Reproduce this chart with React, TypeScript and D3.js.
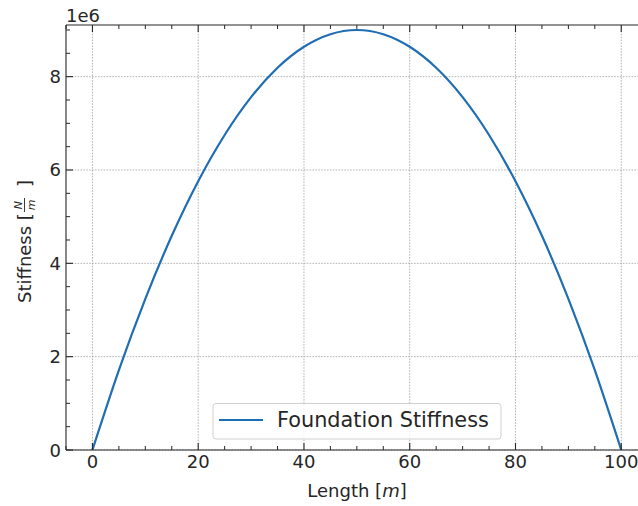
import React from "react";
import * as d3 from "d3";

const lengths = [0, 5, 10, 15, 20, 25, 30, 35, 40, 45, 50, 55, 60, 65, 70, 75, 80, 85, 90, 95, 100];
const stiffness = [0, 1.71e6, 3.24e6, 4.59e6, 5.76e6, 6.75e6, 7.56e6, 8.19e6, 8.64e6, 8.91e6, 9.0e6, 8.91e6, 8.64e6, 8.19e6, 7.56e6, 6.75e6, 5.76e6, 4.59e6, 3.24e6, 1.71e6, 0];
const xTicks = [0, 20, 40, 60, 80, 100];
const yTicks = [0, 2e6, 4e6, 6e6, 8e6];
const seriesName = "Foundation Stiffness";

const W = 638, H = 506;
const L = 66, T = 25, B = 450;
const RIGHT = 647.7;
const FONT = "DejaVu Sans, sans-serif";
const TXT = "#262626";
const BLUE = "#1f6db2";
const FS = 18;

export default function App() {
  const x = d3.scaleLinear().domain([-5, 105]).range([L, RIGHT]);
  const y = d3.scaleLinear().domain([0, 9.107e6]).range([B, T]);
  const pts = lengths.map((l, i) => [l, stiffness[i]] as [number, number]);
  const line = d3.line<[number, number]>().x(d => x(d[0])).y(d => y(d[1])).curve(d3.curveNatural);
  const xMinor = d3.range(-5, 106, 5).filter(v => !xTicks.includes(v));
  const yMinor = d3.range(0, 9.1e6, 0.5e6).filter(v => !yTicks.includes(v));
  return (
    <svg width={W} height={H} style={{ position: "absolute", left: 0, top: 0 }} fontFamily={FONT}>
      <rect width={W} height={H} fill="white" />
      <defs>
        <clipPath id="plot"><rect x={L} y={T} width={RIGHT - L} height={B - T} /></clipPath>
      </defs>
      {xTicks.map(v => (
        <line key={"gx" + v} x1={x(v)} x2={x(v)} y1={T} y2={B} stroke="#a0a0a0" strokeWidth={0.8} strokeDasharray="1.6,1.3" />
      ))}
      {yTicks.map(v => (
        <line key={"gy" + v} x1={L} x2={RIGHT} y1={y(v)} y2={y(v)} stroke="#a0a0a0" strokeWidth={0.8} strokeDasharray="1.6,1.3" />
      ))}
      <path d={line(pts) || ""} fill="none" stroke={BLUE} strokeWidth={2.2} clipPath="url(#plot)" />
      <line x1={L} x2={L} y1={T} y2={B} stroke={TXT} strokeWidth={1.1} />
      <line x1={L} x2={RIGHT} y1={B} y2={B} stroke={TXT} strokeWidth={1.1} />
      <line x1={L} x2={RIGHT} y1={T} y2={T} stroke={TXT} strokeWidth={1.1} />
      {xTicks.map(v => (
        <g key={"xt" + v}>
          <line x1={x(v)} x2={x(v)} y1={B} y2={B - 7} stroke={TXT} strokeWidth={1.1} />
          <line x1={x(v)} x2={x(v)} y1={T} y2={T + 7} stroke={TXT} strokeWidth={1.1} />
          <text x={x(v)} y={468} fontSize={FS} fill={TXT} textAnchor="middle">{v}</text>
        </g>
      ))}
      {xMinor.map(v => (
        <g key={"xm" + v}>
          <line x1={x(v)} x2={x(v)} y1={B} y2={B - 4} stroke={TXT} strokeWidth={1} />
          <line x1={x(v)} x2={x(v)} y1={T} y2={T + 4} stroke={TXT} strokeWidth={1} />
        </g>
      ))}
      {yTicks.map(v => (
        <g key={"yt" + v}>
          <line x1={L} x2={L + 7} y1={y(v)} y2={y(v)} stroke={TXT} strokeWidth={1.1} />
          <text x={L - 5} y={y(v) + 6.5} fontSize={FS} fill={TXT} textAnchor="end">{v / 1e6}</text>
        </g>
      ))}
      {yMinor.map(v => (
        <line key={"ym" + v} x1={L} x2={L + 4} y1={y(v)} y2={y(v)} stroke={TXT} strokeWidth={1} />
      ))}
      <text x={66} y={22} fontSize={FS} fill={TXT}>1e6</text>
      <text x={357} y={497} fontSize={FS} fill={TXT} textAnchor="middle">
        Length [<tspan fontStyle="oblique">m</tspan>]
      </text>
      <g transform="translate(31,303) rotate(-90)">
        <text x={0} y={0} fontSize={FS} fill={TXT}>Stiffness [</text>
        <text x={98} y={-9} fontSize={11} fill={TXT} textAnchor="middle" fontStyle="oblique">N</text>
        <line x1={91} x2={105} y1={-6.5} y2={-6.5} stroke={TXT} strokeWidth={0.9} />
        <text x={98} y={3.5} fontSize={11} fill={TXT} textAnchor="middle" fontStyle="oblique">m</text>
        <text x={116} y={0} fontSize={FS} fill={TXT}>]</text>
      </g>
      <rect x={213} y={403.5} width={288} height={35.5} rx={3} fill="white" fillOpacity={0.8} stroke="#d0d0d0" strokeWidth={1} />
      <line x1={219} x2={263} y1={420} y2={420} stroke={BLUE} strokeWidth={2.2} />
      <text x={277} y={427} fontSize={20.8} fill={TXT}>{seriesName}</text>
    </svg>
  );
}
